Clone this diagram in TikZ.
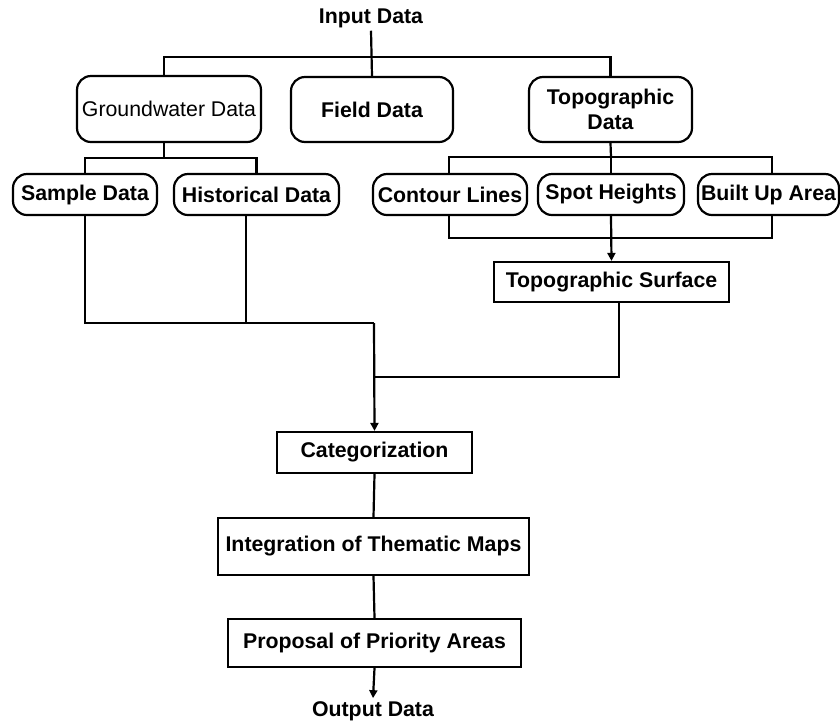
\documentclass[tikz,border=0pt]{standalone}
\usepackage{fontspec}
\setmainfont{Liberation Sans}
\usetikzlibrary{arrows.meta,calc}
\begin{document}
\begin{tikzpicture}[x=1pt,y=-1pt,
  every node/.style={font=\fontsize{21.3}{25}\selectfont\bfseries, inner sep=0pt, align=center},
  rbox/.style={draw, line width=2.2pt, rounded corners=14pt},
  sbox/.style={draw, line width=2.2pt},
  conn/.style={line width=2.2pt},
  arr/.style={conn, -{Triangle[length=8pt,width=8pt]}},
  lbl/.style={inner sep=3pt}
]
\useasboundingbox (0,0) rectangle (840,724);
% top level
\node[lbl] (inp) at (371,18) {Input Data};
\node[rbox, minimum width=184pt, minimum height=66pt, font=\fontsize{21.3}{25}\selectfont] (gw) at (169,109) {Groundwater Data};
\node[rbox, minimum width=162pt, minimum height=65pt] (field) at (372,109.5) {Field Data};
\node[rbox, minimum width=163pt, minimum height=65pt] (topo) at (610.5,109.5) {Topographic\\Data};
% second level
\node[rbox, minimum width=144pt, minimum height=41pt] (sample) at (85,194.5) {Sample Data};
\node[rbox, minimum width=165pt, minimum height=41pt] (hist) at (256.5,194.5) {Historical Data};
\node[rbox, minimum width=154pt, minimum height=41pt] (contour) at (450,194.5) {Contour Lines};
\node[rbox, minimum width=146pt, minimum height=41pt] (spot) at (611,194.5) {Spot Heights};
\node[rbox, minimum width=141pt, minimum height=41pt] (built) at (768.5,194.5) {Built Up Area};
% processing boxes
\node[sbox, minimum width=235pt, minimum height=40pt] (tsurf) at (611.5,282) {Topographic Surface};
\node[sbox, minimum width=195pt, minimum height=41pt] (cat) at (374.5,452.5) {Categorization};
\node[sbox, minimum width=311pt, minimum height=57pt] (integ) at (373.5,546.5) {Integration of Thematic Maps};
\node[sbox, minimum width=293pt, minimum height=48pt] (prop) at (374.5,643) {Proposal of Priority Areas};
\node[lbl] (out) at (373,711) {Output Data};
% junctions
\coordinate (j1) at (372,57);
\coordinate (j2) at (164,158);
\coordinate (j3) at (611,157);
\coordinate (j4) at (611,238);
\coordinate (j5) at (374,323);
\coordinate (j6) at (374,377);
% top connectors
\draw[conn] (inp.south) -- (field.north);
\draw[conn] ([xshift=-5pt]gw.north) |- (j1) -| (topo.north);
% groundwater branches
\draw[conn] ([xshift=-5pt]gw.south) -- (j2);
\draw[conn] (sample.north) |- (j2) -| (hist.north);
% topographic branches
\draw[conn] (topo.south) -- (j3);
\draw[conn] ([xshift=-1pt]contour.north) |- (j3) -| ([xshift=3.5pt]built.north);
\draw[conn] (j3) -- (spot.north);
\draw[conn] ([xshift=-1pt]contour.south) |- (j4) -| ([xshift=3.5pt]built.south);
\draw[arr] (spot.south) -- (tsurf.north);
% merging
\draw[conn] (sample.south) |- (j5);
\draw[conn] ([xshift=-10.5pt]hist.south) -- ([xshift=-10.5pt]hist.south |- j5);
\draw[conn] ([xshift=7.5pt]tsurf.south) |- (j6);
\draw[arr] (j5) -- (cat.north);
\draw[conn] (cat.south) -- (integ.north);
\draw[conn] (integ.south) -- (prop.north);
\draw[arr] (prop.south) -- (out.north);
\end{tikzpicture}
\end{document}
